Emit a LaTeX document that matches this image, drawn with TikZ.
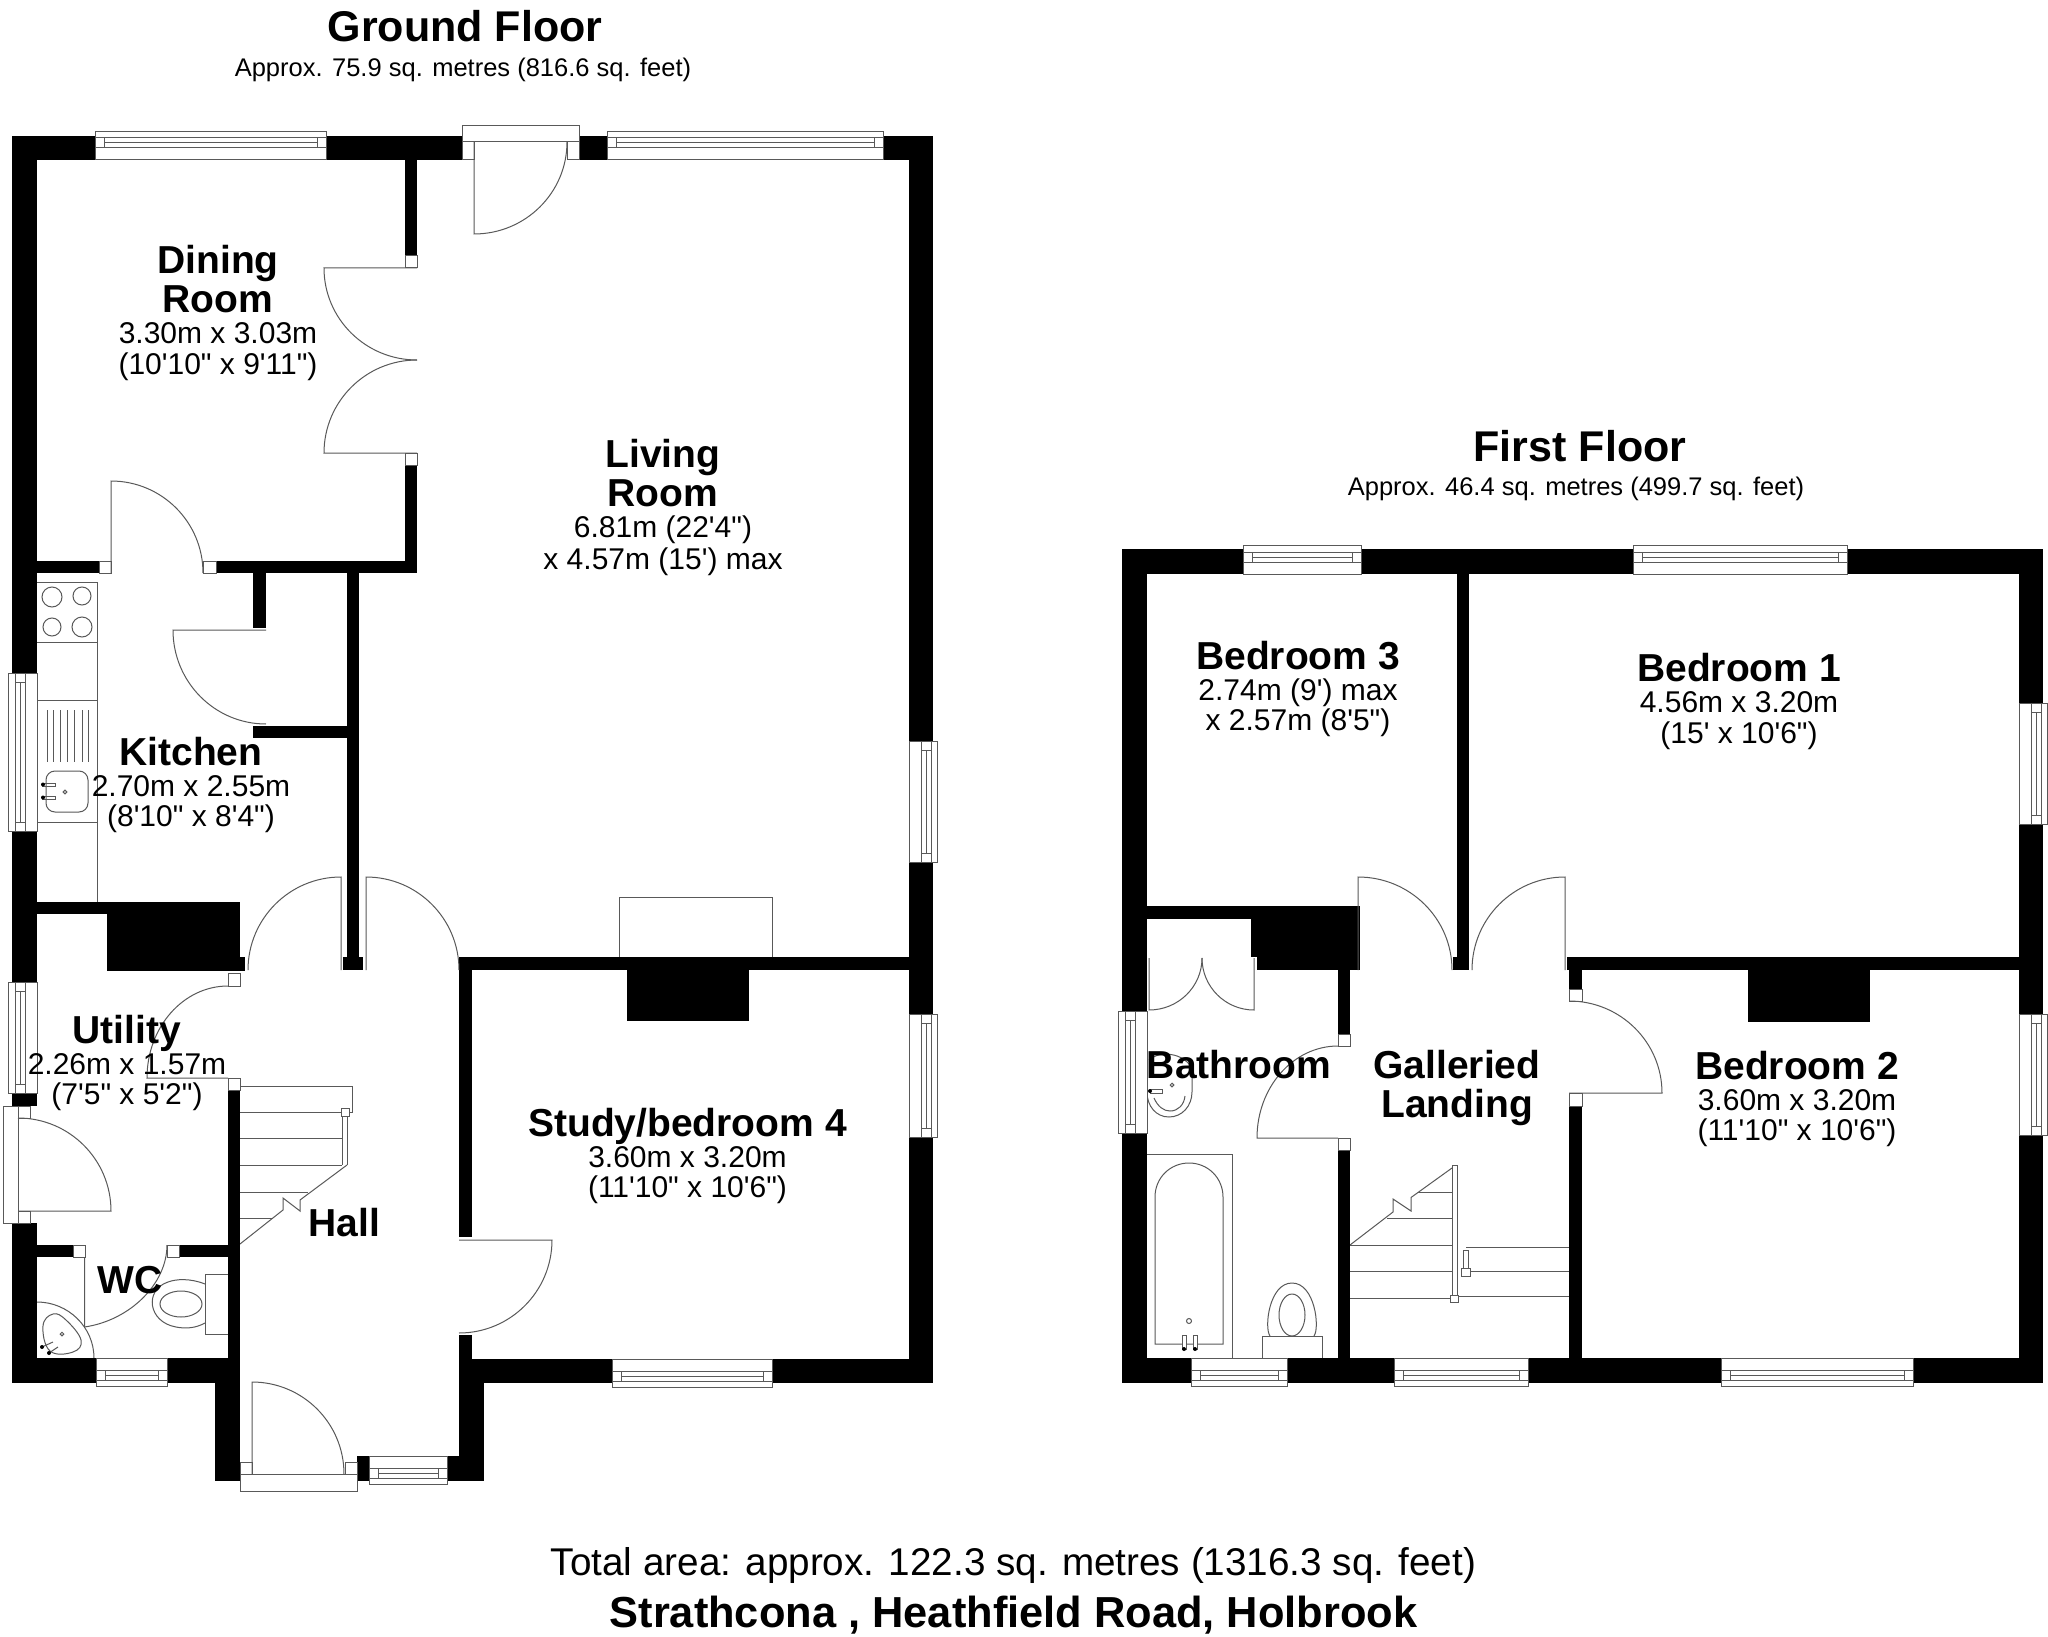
\documentclass[tikz,border=0pt]{standalone}
\usepackage{fontspec}
\usetikzlibrary{calc}
\newfontfamily\lsans{Liberation Sans}
\newcommand{\dm}{\fontsize{30}{30}\selectfont\mdseries}
\tikzset{
  plan/.style={draw=black!65,line width=1pt},
  planfill/.style={plan,fill=white},
  wallfill/.style={fill=black},
  roomlabel/.style={inner sep=0pt,align=center,text=black,font=\lsans\fontsize{39}{39}\selectfont\bfseries},
  title/.style={inner sep=0pt,anchor=base,font=\lsans\fontsize{43}{43}\selectfont\bfseries},
  caption/.style={inner sep=0pt,anchor=base,font=\lsans\fontsize{25.5}{26}\selectfont},
  total/.style={inner sep=0pt,anchor=base,font=\lsans\fontsize{38.65}{39}\selectfont},
  address/.style={inner sep=0pt,anchor=base,font=\lsans\fontsize{43.4}{43}\selectfont\bfseries}
}
\newcommand{\wall}[4]{\fill[wallfill] (#1,#2) rectangle (#3,#4);}
\newcommand{\jamb}[4]{\draw[planfill] (#1,#2) rectangle (#3,#4);}
\newcommand{\door}[6]{\draw[plan] (#1,#2) -- (#3,#4) .. controls ($(#3,#4)!0.5523!(#3+#5-#1,#4+#6-#2)$) and ($(#5,#6)!0.5523!(#3+#5-#1,#4+#6-#2)$) .. (#5,#6);}
\newcommand{\hwin}[4]{%
  \draw[planfill] (#1,#3) rectangle (#2,#3+#4*28.5);
  \draw[plan] (#1,#3+#4*22) -- (#2,#3+#4*22);
  \draw[plan] (#1,#3+#4*12) -- (#2,#3+#4*12);
  \draw[plan] (#1+9,#3+#4*12) -- (#1+9,#3+#4*22);
  \draw[plan] (#2-9,#3+#4*12) -- (#2-9,#3+#4*22);
  \draw[plan] (#1+9,#3+#4*17) -- (#2-9,#3+#4*17);
}
\newcommand{\vwin}[4]{%
  \draw[planfill] (#3,#1) rectangle (#3+#4*28.5,#2);
  \draw[plan] (#3+#4*22,#1) -- (#3+#4*22,#2);
  \draw[plan] (#3+#4*12,#1) -- (#3+#4*12,#2);
  \draw[plan] (#3+#4*12,#1+9) -- (#3+#4*22,#1+9);
  \draw[plan] (#3+#4*12,#2-9) -- (#3+#4*22,#2-9);
  \draw[plan] (#3+#4*17,#1+9) -- (#3+#4*17,#2-9);
}
\begin{document}
\begin{tikzpicture}[x=1pt,y=-1pt]
\useasboundingbox (0,0) rectangle (2048,1637);
\fill[white] (0,0) rectangle (2048,1637);

%% ---------- GROUND FLOOR ----------
% fittings under the walls
\draw[plan] (619,957) -- (619,897) -- (772,897) -- (772,957);
\draw[plan] (37,582) -- (97,582) -- (97,902);
\draw[plan] (37,642) -- (97,642);
\draw[plan] (37,700) -- (97,700);
\draw[plan] (37,822) -- (97,822);
\draw[plan] (52,597) circle (10);
\draw[plan] (82,596) circle (9);
\draw[plan] (52,627) circle (9);
\draw[plan] (82,627) circle (10);
\foreach \xx in {47,53,60,67,74,82,88} {\draw[plan] (\xx,710) -- (\xx,762);}
\draw[plan,rounded corners=9pt] (46,771) rectangle (88,812);
\draw[plan] (65,792) circle (1.8);
\draw[plan] (42,783) rectangle (55,786);
\draw[plan] (42,796) rectangle (55,799);
\fill (43,784.5) circle (2);
\fill (43,797.5) circle (2);
% WC fittings
\draw[plan] (228,1274) -- (205,1274) -- (205,1334) -- (228,1334);
\draw[plan] (205,1284) .. controls (190,1278) and (176,1279) .. (168,1282) .. controls (144,1290) and (148,1322) .. (176,1327) .. controls (186,1329) and (196,1328) .. (205,1323);
\draw[plan] (181,1304) ellipse (21 and 13);
\draw[plan] (37,1302) .. controls (68,1302) and (94,1327) .. (94,1358);
\draw[plan] plot[smooth cycle,tension=.7] coordinates {(43,1326) (53,1314) (66,1320) (81,1340) (73,1352) (50,1351)};
\draw[plan] (62,1334) circle (1.8);
\draw[plan] (42,1347) -- (53,1342);
\draw[plan] (49,1353) -- (58,1347);
\fill (42,1347) circle (2);
\fill (49,1353) circle (2);
% stairs
\draw[plan] (240,1086) -- (352,1086) -- (352,1112) -- (240,1112);
\draw[plan] (240,1138) -- (342,1138);
\draw[plan] (240,1165) -- (342,1165);
\draw[plan] (240,1192) -- (308,1192);
\draw[plan] (240,1218) -- (273,1218);
\draw[plan] (342,1116) -- (342,1165);
\draw[plan] (347,1116) -- (347,1165);
\draw[planfill] (341,1108) rectangle (349,1116);
\draw[plan] (240,1244) -- (283,1210) -- (283,1198) -- (300,1211) -- (300,1200) -- (347,1165);

% walls
\wall{12}{136}{95}{160}
\wall{326}{136}{462}{160}
\wall{579}{136}{607}{160}
\wall{883}{136}{933}{160}
\wall{12}{160}{37}{673}
\wall{12}{831}{37}{982}
\wall{12}{1093}{37}{1106}
\wall{12}{1223}{37}{1383}
\wall{909}{136}{933}{741}
\wall{909}{862}{933}{1014}
\wall{909}{1137}{933}{1383}
\wall{37}{1358}{96}{1383}
\wall{167}{1358}{240}{1383}
\wall{215}{1358}{240}{1481}
\wall{472}{1359}{612}{1383}
\wall{772}{1359}{909}{1383}
\wall{459}{1335}{472}{1359}
\wall{459}{1359}{484}{1481}
\wall{447}{1456}{459}{1481}
\wall{357}{1456}{369}{1481}
\wall{405}{160}{417}{256}
\wall{405}{465}{417}{573}
\wall{37}{561}{99}{573}
\wall{216}{561}{417}{573}
\wall{253}{573}{266}{628}
\wall{253}{726}{359}{738}
\wall{347}{573}{359}{957}
\wall{343}{957}{363}{970}
\wall{37}{902}{107}{914}
\wall{107}{902}{240}{971}
\wall{228}{957}{245}{971}
\wall{228}{1090}{240}{1358}
\wall{37}{1245}{73}{1257}
\wall{179}{1245}{228}{1257}
\wall{461}{957}{909}{970}
\wall{459}{957}{472}{1237}
\wall{627}{970}{749}{1021}

% jambs and door frames
\jamb{405}{256}{417}{268}
\jamb{405}{453}{417}{465}
\jamb{99}{561}{111}{573}
\jamb{203}{561}{216}{573}
\jamb{462}{126}{579}{142}
\jamb{462}{142}{474}{160}
\jamb{567}{142}{579}{160}
\jamb{3}{1106}{18}{1223}
\jamb{18}{1106}{30}{1118}
\jamb{18}{1211}{30}{1223}
\jamb{240}{1474}{357}{1491}
\jamb{240}{1462}{252}{1474}
\jamb{345}{1462}{357}{1474}
\jamb{228}{973}{240}{986}
\jamb{228}{1078}{240}{1090}
\jamb{73}{1245}{85}{1257}
\jamb{167}{1245}{179}{1257}

% doors
\door{474}{142}{474}{234}{567}{142}
\door{417}{268}{324}{268}{417}{360}
\door{417}{453}{324}{453}{417}{360}
\door{111}{573}{111}{481}{203}{573}
\door{266}{630}{173}{630}{266}{724}
\door{341}{970}{341}{877}{248}{970}
\door{366}{970}{366}{877}{459}{970}
\door{228}{1078}{147}{1078}{228}{986}
\door{18}{1211}{111}{1211}{18}{1118}
\door{84.5}{1257}{84.5}{1327}{167}{1245}
\door{459}{1240}{552}{1240}{459}{1333}
\door{252}{1474}{252}{1382}{344}{1474}

% windows
\hwin{95}{326}{160}{-1}
\hwin{607}{883}{160}{-1}
\vwin{741}{862}{909}{1}
\vwin{1014}{1137}{909}{1}
\vwin{673}{831}{37}{-1}
\vwin{982}{1093}{37}{-1}
\hwin{96}{167}{1358}{1}
\hwin{612}{772}{1359}{1}
\hwin{369}{447}{1456}{1}

%% ---------- FIRST FLOOR ----------
% fittings
\draw[plan] (1147,1154) -- (1232,1154) -- (1232,1358);
\draw[plan] (1155,1344) -- (1155,1197) .. controls (1155,1178) and (1170,1163) .. (1189,1163) .. controls (1208,1163) and (1223,1178) .. (1223,1197) -- (1223,1344) -- cycle;
\draw[plan] (1189,1321) circle (2.5);
\draw[planfill] (1182,1335) rectangle (1186,1349);
\draw[planfill] (1193,1335) rectangle (1197,1349);
\fill (1184,1349) circle (2);
\fill (1195,1349) circle (2);
\draw[plan] (1262,1358) -- (1262,1336) -- (1322,1336) -- (1322,1358);
\draw[plan] (1270,1336) .. controls (1264,1328) and (1269,1283) .. (1292,1283) .. controls (1315,1283) and (1320,1328) .. (1314,1336);
\draw[plan] (1292,1315) ellipse (13 and 21);
\draw[plan] (1149,1060) .. controls (1155,1053) and (1180,1049) .. (1192,1068) -- (1192,1092) .. controls (1192,1106) and (1182,1117) .. (1169,1117) .. controls (1156,1117) and (1147,1106) .. (1147,1092);
\draw[plan] (1154,1098) .. controls (1158,1107) and (1164,1111) .. (1170,1111) .. controls (1178,1111) and (1184,1105) .. (1185,1096);
\draw[plan] (1172,1085) circle (1.8);
\draw[plan] (1150,1089) rectangle (1162,1093);
\fill (1150,1091) circle (2);
% stairs
\draw[plan] (1418,1192) -- (1452,1192);
\draw[plan] (1387,1218) -- (1452,1218);
\draw[plan] (1350,1245) -- (1452,1245);
\draw[plan] (1350,1271) -- (1452,1271);
\draw[plan] (1350,1298) -- (1452,1298);
\draw[plan] (1466,1247) -- (1569,1247);
\draw[plan] (1470,1271) -- (1569,1271);
\draw[plan] (1458,1296) -- (1569,1296);
\draw[planfill] (1452,1165) rectangle (1457,1295);
\draw[planfill] (1450,1295) rectangle (1458,1302);
\draw[planfill] (1463,1250) rectangle (1468,1268);
\draw[planfill] (1461,1268) rectangle (1470,1276);
\draw[plan] (1350,1245) -- (1393,1212) -- (1393,1199) -- (1411,1211) -- (1411,1197.5) -- (1452,1168);

% walls
\wall{1122}{549}{1243}{574}
\wall{1361}{549}{1633}{574}
\wall{1847}{549}{2043}{574}
\wall{1122}{574}{1147}{1011}
\wall{1122}{1133}{1147}{1383}
\wall{2019}{574}{2043}{703}
\wall{2019}{824}{2043}{1014}
\wall{2019}{1135}{2043}{1383}
\wall{1147}{1358}{1191}{1383}
\wall{1287}{1358}{1394}{1383}
\wall{1528}{1358}{1721}{1383}
\wall{1913}{1358}{2019}{1383}
\wall{1457}{574}{1469}{970}
\wall{1453}{957}{1469}{970}
\wall{1147}{906}{1251}{919}
\wall{1251}{906}{1360}{957}
\wall{1257}{957}{1360}{970}
\wall{1338}{970}{1350}{1034}
\wall{1338}{1150}{1350}{1358}
\wall{1567}{957}{2019}{970}
\wall{1569}{970}{1582}{989}
\wall{1748}{970}{1870}{1022}
\wall{1569}{1106}{1582}{1358}

% jambs
\jamb{1338}{1034}{1350}{1046}
\jamb{1338}{1138}{1350}{1150}
\jamb{1569}{989}{1582}{1001}
\jamb{1569}{1093}{1582}{1106}

% doors
\door{1358}{970}{1358}{877}{1452}{970}
\door{1565}{970}{1565}{877}{1472}{970}
\door{1338}{1138}{1257}{1138}{1338}{1046}
\door{1569}{1093}{1662}{1093}{1569}{1001}
\door{1149}{958}{1149}{1010}{1202}{958}
\door{1254}{958}{1254}{1010}{1202}{958}

% windows
\hwin{1243}{1361}{574}{-1}
\hwin{1633}{1847}{574}{-1}
\vwin{703}{824}{2019}{1}
\vwin{1014}{1135}{2019}{1}
\vwin{1011}{1133}{1147}{-1}
\hwin{1191}{1287}{1358}{1}
\hwin{1394}{1528}{1358}{1}
\hwin{1721}{1913}{1358}{1}

%% ---------- TEXT ----------
\node[title] (groundtitle) at (465,42) {Ground Floor};
\node[caption] (groundarea) at (463,76.5) {Approx. 75.9 sq. metres (816.6 sq. feet)};
\node[title] (firsttitle) at (1580,461) {First Floor};
\node[caption] (firstarea) at (1576,495.5) {Approx. 46.4 sq. metres (499.7 sq. feet)};
\node[total] (totalarea) at (1013.5,1575) {Total area: approx. 122.3 sq. metres (1316.3 sq. feet)};
\node[address] (addr) at (1013.5,1627) {Strathcona , Heathfield Road, Holbrook};

\node[roomlabel] (dining) at (218,312.5) {Dining\\Room\\[-8pt]{\dm 3.30m x 3.03m}\\[-8pt]{\dm (10'10" x 9'11")}};
\node[roomlabel] (living) at (663,507) {Living\\Room\\[-8pt]{\dm 6.81m (22'4")}\\[-7pt]{\dm x 4.57m (15') max}};
\node[roomlabel] (kitchen) at (191,785) {Kitchen\\[-8pt]{\dm 2.70m x 2.55m}\\[-8.5pt]{\dm (8'10" x 8'4")}};
\node[roomlabel] (utility) at (127,1063) {Utility\\[-8pt]{\dm 2.26m x 1.57m}\\[-8.5pt]{\dm (7'5" x 5'2")}};
\node[roomlabel] (wc) at (130,1280.5) {WC};
\node[roomlabel] (hall) at (344.5,1222.5) {Hall};
\node[roomlabel] (study) at (687.5,1156) {Study/bedroom 4\\[-8pt]{\dm 3.60m x 3.20m}\\[-8.5pt]{\dm (11'10" x 10'6")}};
\node[roomlabel] (bed3) at (1298,689) {Bedroom 3\\[-8pt]{\dm 2.74m (9') max}\\[-8.5pt]{\dm x 2.57m (8'5")}};
\node[roomlabel] (bed1) at (1739,701.5) {Bedroom 1\\[-8pt]{\dm 4.56m x 3.20m}\\[-8.5pt]{\dm (15' x 10'6")}};
\node[roomlabel] (bed2) at (1797,1099) {Bedroom 2\\[-8pt]{\dm 3.60m x 3.20m}\\[-8.5pt]{\dm (11'10" x 10'6")}};
\node[roomlabel] (bath) at (1239,1065) {Bathroom};
\node[roomlabel] (landing) at (1457,1088) {Galleried\\Landing};
\end{tikzpicture}
\end{document}
